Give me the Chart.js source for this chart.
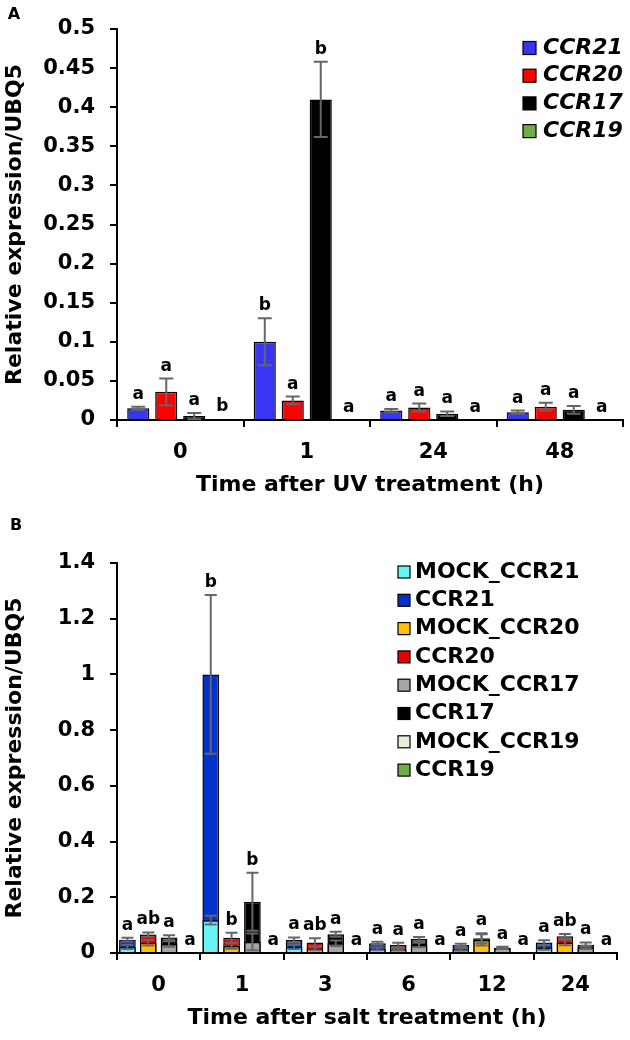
<!DOCTYPE html>
<html>
<head>
<meta charset="utf-8">
<script src="https://cdn.jsdelivr.net/npm/chart.js@4.4.0/dist/chart.umd.min.js"></script>
<style>
  body { margin: 0; background: #fff; width: 630px; height: 1040px; overflow: hidden; }
  canvas { display: block; }
</style>
</head>
<body>
<canvas id="chartUV" width="630" height="505"></canvas>
<canvas id="chartSalt" width="630" height="535"></canvas>
<script>
// ---- Данные: УФ ----
const uvTimes = ["0", "1", "24", "48"];
const uvCCR21 = [0.015, 0.100, 0.012, 0.010];
const uvCCR21Err = [0.002, 0.030, 0.002, 0.002];
const uvCCR20 = [0.036, 0.025, 0.016, 0.017];
const uvCCR20Err = [0.017, 0.005, 0.005, 0.005];
const uvCCR17 = [0.005, 0.410, 0.008, 0.013];
const uvCCR17Err = [0.004, 0.048, 0.003, 0.005];
const uvCCR19 = [0.001, 0, 0, 0];
const uvCCR19Err = [0, 0, 0, 0];
const uvLetters21 = ["a", "b", "a", "a"];
const uvLetters20 = ["a", "a", "a", "a"];
const uvLetters17 = ["a", "b", "a", "a"];
const uvLetters19 = ["b", "a", "a", "a"];

// ---- Данные: соль ----
const saltTimes = ["0", "1", "3", "6", "12", "24"];
const mockCCR21 = [0.022, 0.118, 0.022, 0.015, 0.013, 0.020];
const mockCCR21Err = [0.008, 0.016, 0.008, 0.005, 0.005, 0.008];
const saltCCR21 = [0.048, 1.0, 0.047, 0.035, 0.029, 0.038];
const saltCCR21Err = [0.007, 0.285, 0.009, 0.005, 0.004, 0.008];
const mockCCR20 = [0.037, 0.025, 0.016, 0.013, 0.047, 0.038];
const mockCCR20Err = [0.010, 0.010, 0.006, 0.004, 0.020, 0.010];
const saltCCR20 = [0.066, 0.055, 0.038, 0.029, 0.053, 0.060];
const saltCCR20Err = [0.008, 0.018, 0.015, 0.008, 0.018, 0.008];
const mockCCR17 = [0.032, 0.040, 0.035, 0.029, 0.017, 0.020];
const mockCCR17Err = [0.010, 0.030, 0.010, 0.008, 0.003, 0.006];
const saltCCR17 = [0.056, 0.184, 0.067, 0.050, 0.019, 0.030];
const saltCCR17Err = [0.008, 0.104, 0.009, 0.007, 0.003, 0.008];
const mockCCR19 = [0, 0, 0, 0, 0, 0];
const saltCCR19 = [0, 0, 0, 0, 0, 0];
const saltLetters21 = ["a", "b", "a", "a", "a", "a"];
const saltLetters20 = ["ab", "b", "ab", "a", "a", "ab"];
const saltLetters17 = ["a", "b", "a", "a", "a", "a"];
const saltLetters19 = ["a", "a", "a", "a", "a", "a"];

const FONT = "'DejaVu Sans', sans-serif";
Chart.defaults.font.family = FONT;
Chart.defaults.font.weight = "bold";
Chart.defaults.color = "#000";

// Полосы ошибок поверх столбиков
const errorBarsPlugin = {
  id: "errorBars",
  afterDatasetsDraw(chart, args, opts) {
    const ctx = chart.ctx;
    const yScale = chart.scales.y;
    ctx.save();
    ctx.strokeStyle = "#666";
    ctx.lineWidth = 2;
    chart.data.datasets.forEach((ds, di) => {
      if (!ds.errors) return;
      const meta = chart.getDatasetMeta(di);
      meta.data.forEach((bar, i) => {
        const v = ds.data[i];
        const e = ds.errors[i];
        if (!e) return;
        const yTop = yScale.getPixelForValue(v + e);
        const yBot = yScale.getPixelForValue(Math.max(v - e, 0));
        const c = opts.cap;
        ctx.beginPath();
        ctx.moveTo(bar.x, yTop); ctx.lineTo(bar.x, yBot);
        ctx.moveTo(bar.x - c, yTop); ctx.lineTo(bar.x + c, yTop);
        ctx.moveTo(bar.x - c, yBot); ctx.lineTo(bar.x + c, yBot);
        ctx.stroke();
      });
    });
    ctx.restore();
  }
};

// Буквы значимости над столбиками
const lettersPlugin = {
  id: "letters",
  afterDatasetsDraw(chart, args, opts) {
    const ctx = chart.ctx;
    const yScale = chart.scales.y;
    const sets = chart.data.datasets;
    ctx.save();
    ctx.font = `bold ${opts.size}px ${FONT}`;
    ctx.fillStyle = "#000";
    ctx.textAlign = "center";
    ctx.textBaseline = "alphabetic";
    sets.forEach((ds, di) => {
      if (!ds.letters) return;
      const meta = chart.getDatasetMeta(di);
      ds.letters.forEach((txt, i) => {
        let top = 0;
        sets.forEach((other) => {
          if (other === ds || (ds.stack && other.stack === ds.stack)) {
            top = Math.max(top, other.data[i] + (other.errors ? other.errors[i] : 0));
          }
        });
        ctx.fillText(txt, meta.data[i].x, yScale.getPixelForValue(top) - opts.gap);
      });
    });
    ctx.restore();
  }
};

// Своя легенда и буква панели
const sideLegendPlugin = {
  id: "sideLegend",
  afterDraw(chart, args, opts) {
    const ctx = chart.ctx;
    ctx.save();
    ctx.textBaseline = "middle";
    ctx.textAlign = "left";
    chart.data.datasets.forEach((ds, i) => {
      const cy = opts.y + i * opts.step;
      ctx.fillStyle = ds.backgroundColor;
      ctx.fillRect(opts.x, cy - opts.box / 2, opts.box, opts.box);
      ctx.strokeStyle = "#000";
      ctx.lineWidth = 1.2;
      ctx.strokeRect(opts.x, cy - opts.box / 2, opts.box, opts.box);
      ctx.fillStyle = "#000";
      ctx.font = `${opts.italic ? "italic " : ""}bold ${opts.size}px ${FONT}`;
      ctx.fillText(ds.label, opts.textX, cy);
    });
    ctx.font = `bold 16px ${FONT}`;
    ctx.textAlign = "center";
    ctx.fillText(opts.panel, opts.panelX, opts.panelY);
    ctx.restore();
  }
};

function makeScales(cfg) {
  return {
    x: {
      stacked: cfg.stacked,
      grid: { display: true, drawOnChartArea: false, drawTicks: true, tickLength: 7, color: "#000", lineWidth: 2, offset: true },
      border: { display: true, color: "#000", width: 2 },
      ticks: { font: { size: 21, weight: "bold" }, color: "#000", padding: 13 },
      title: { display: true, text: cfg.xTitle, color: "#000", font: { size: 22, weight: "bold" }, padding: { top: 0, bottom: cfg.titlePad } },
      afterFit: (s) => { s.height = cfg.xHeight; }
    },
    y: {
      stacked: false,
      min: 0,
      max: cfg.yMax,
      grid: { drawOnChartArea: false, drawTicks: true, tickLength: 7, color: "#000", lineWidth: 2 },
      border: { display: true, color: "#000", width: 2 },
      ticks: { stepSize: cfg.yStep, font: { size: 21, weight: "bold" }, color: "#000", padding: 15,
        callback: (v) => String(+v.toFixed(2)) },
      title: { display: true, text: "Relative expression/UBQ5", color: "#000", font: { size: 22, weight: "bold" }, padding: { top: 2, bottom: 0 } },
      afterFit: (s) => { s.width = 117; }
    }
  };
}

// ---- Панель A ----
new Chart(document.getElementById("chartUV"), {
  type: "bar",
  data: {
    labels: uvTimes,
    datasets: [
      { label: "CCR21", data: uvCCR21, errors: uvCCR21Err, letters: uvLetters21, backgroundColor: "#3636f4" },
      { label: "CCR20", data: uvCCR20, errors: uvCCR20Err, letters: uvLetters20, backgroundColor: "#ff0000" },
      { label: "CCR17", data: uvCCR17, errors: uvCCR17Err, letters: uvLetters17, backgroundColor: "#000000" },
      { label: "CCR19", data: uvCCR19, errors: uvCCR19Err, letters: uvLetters19, backgroundColor: "#70ad47" }
    ].map((d) => ({ ...d, borderColor: "#000", borderWidth: 1.5, categoryPercentage: 0.885, barPercentage: 0.79 }))
  },
  options: {
    responsive: false,
    animation: false,
    devicePixelRatio: 1,
    layout: { padding: { top: 29, right: 7, left: 0, bottom: 0 } },
    scales: makeScales({ stacked: false, xTitle: "Time after UV treatment (h)", titlePad: 7, xHeight: 85, yMax: 0.5, yStep: 0.05 }),
    plugins: {
      legend: { display: false },
      tooltip: { enabled: false },
      errorBars: { cap: 7 },
      letters: { size: 17, gap: 8 },
      sideLegend: { x: 523, textX: 543, y: 48, step: 27.7, box: 13, size: 22, italic: true, panel: "A", panelX: 14, panelY: 15 }
    }
  },
  plugins: [errorBarsPlugin, lettersPlugin, sideLegendPlugin]
});

// ---- Панель B ----
const saltSets = [
  { label: "MOCK_CCR21", data: mockCCR21, errors: mockCCR21Err, stack: "s21", backgroundColor: "#66f4f4" },
  { label: "CCR21", data: saltCCR21, errors: saltCCR21Err, letters: saltLetters21, stack: "s21", backgroundColor: "#0033cc" },
  { label: "MOCK_CCR20", data: mockCCR20, errors: mockCCR20Err, stack: "s20", backgroundColor: "#ffc000" },
  { label: "CCR20", data: saltCCR20, errors: saltCCR20Err, letters: saltLetters20, stack: "s20", backgroundColor: "#e60000" },
  { label: "MOCK_CCR17", data: mockCCR17, errors: mockCCR17Err, stack: "s17", backgroundColor: "#a6a6a6" },
  { label: "CCR17", data: saltCCR17, errors: saltCCR17Err, letters: saltLetters17, stack: "s17", backgroundColor: "#000000" },
  { label: "MOCK_CCR19", data: mockCCR19, stack: "s19", backgroundColor: "#e2f0d9" },
  { label: "CCR19", data: saltCCR19, letters: saltLetters19, stack: "s19", backgroundColor: "#70ad47" }
].map((d) => ({ ...d, borderColor: "#000", borderWidth: 1.5, categoryPercentage: 1.0, barPercentage: 0.8 }));

new Chart(document.getElementById("chartSalt"), {
  type: "bar",
  data: { labels: saltTimes, datasets: saltSets },
  options: {
    responsive: false,
    animation: false,
    devicePixelRatio: 1,
    layout: { padding: { top: 58, right: 13, left: 0, bottom: 0 } },
    scales: makeScales({ stacked: true, xTitle: "Time after salt treatment (h)", titlePad: 9, xHeight: 87, yMax: 1.4, yStep: 0.2 }),
    plugins: {
      legend: { display: false },
      tooltip: { enabled: false },
      errorBars: { cap: 6 },
      letters: { size: 17, gap: 8 },
      sideLegend: { x: 398, textX: 415, y: 67, step: 28.3, box: 12, size: 22, italic: false, panel: "B", panelX: 16, panelY: 21 }
    }
  },
  plugins: [errorBarsPlugin, lettersPlugin, sideLegendPlugin]
});
</script>
</body>
</html>
